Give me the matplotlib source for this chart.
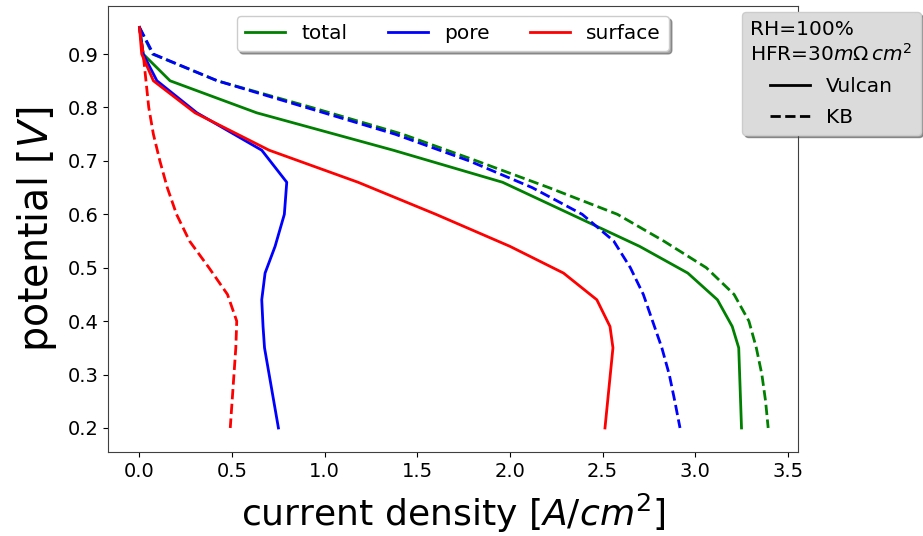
import matplotlib
matplotlib.use("Agg")
import matplotlib.pyplot as plt
from matplotlib.lines import Line2D

# Vulcan (solid lines)
v_vulcan = [0.95, 0.90, 0.85, 0.79, 0.72, 0.66, 0.60, 0.54, 0.49, 0.44, 0.39, 0.35, 0.20]
vulcan_total = [0.0, 0.02, 0.165, 0.633, 1.37, 1.96, 2.33, 2.70, 2.96, 3.12, 3.20, 3.235, 3.25]
vulcan_pore = [0.0, 0.02, 0.094, 0.31, 0.66, 0.795, 0.782, 0.732, 0.678, 0.66, 0.667, 0.675, 0.75]
vulcan_surface = [0.0, 0.012, 0.075, 0.30, 0.70, 1.18, 1.60, 2.0, 2.289, 2.469, 2.54, 2.556, 2.513]

# KB (dashed lines)
v_kb = [0.95, 0.90, 0.85, 0.80, 0.75, 0.70, 0.65, 0.60, 0.55, 0.50, 0.45, 0.40, 0.35, 0.30, 0.25, 0.20]
kb_total = [0.0, 0.07, 0.42, 0.93, 1.42, 1.82, 2.21, 2.58, 2.83, 3.06, 3.21, 3.29, 3.33, 3.36, 3.38, 3.394]
kb_pore = [0.0, 0.075, 0.42, 0.90, 1.38, 1.78, 2.12, 2.39, 2.56, 2.65, 2.72, 2.77, 2.82, 2.86, 2.89, 2.918]
kb_surface = [0.0, 0.02, 0.035, 0.05, 0.075, 0.11, 0.15, 0.20, 0.27, 0.375, 0.475, 0.525, 0.52, 0.51, 0.50, 0.49]

labels = ["total", "pore", "surface"]
colors = ["green", "blue", "red"]

fig = plt.figure(figsize=(9.23, 5.36), dpi=100)
ax = fig.add_axes([108/923, 1-452/536, 690/923, 446/536])

for ys, c, lab in zip([vulcan_total, vulcan_pore, vulcan_surface], colors, labels):
    ax.plot(ys, v_vulcan, color=c, lw=2, label=lab)
for ys, c in zip([kb_total, kb_pore, kb_surface], colors):
    ax.plot(ys, v_kb, color=c, lw=2, ls="--")

ax.set_xlabel(r"current density $[A/cm^2]$", fontsize=26, labelpad=8)
ax.set_ylabel(r"potential $[V]$", fontsize=28.5, labelpad=6)
ax.tick_params(labelsize=14)
ax.set_xticks([0.0, 0.5, 1.0, 1.5, 2.0, 2.5, 3.0, 3.5])
ax.set_yticks([0.2, 0.3, 0.4, 0.5, 0.6, 0.7, 0.8, 0.9])
ax.set_xlim(-0.17, 3.555)
ax.set_ylim(0.155, 0.99)
for s in ax.spines.values():
    s.set_color("0.25")

ax.legend(loc="upper center", ncol=3, fontsize=14.5, shadow=True)

handles = [Line2D([], [], color="black", lw=2, ls="-"),
           Line2D([], [], color="black", lw=2, ls="--")]
leg2 = fig.legend(handles, ["Vulcan", "KB"], loc="upper left",
                  bbox_to_anchor=(742/923, 1-12/536), borderaxespad=0,
                  fontsize=14.5, labelspacing=0.6,
                  title="RH=100%\nHFR=30$m\\Omega\\,cm^2$", title_fontsize=14.5,
                  facecolor="0.86", framealpha=1, shadow=True)

fig.savefig("out.png", dpi=100)
